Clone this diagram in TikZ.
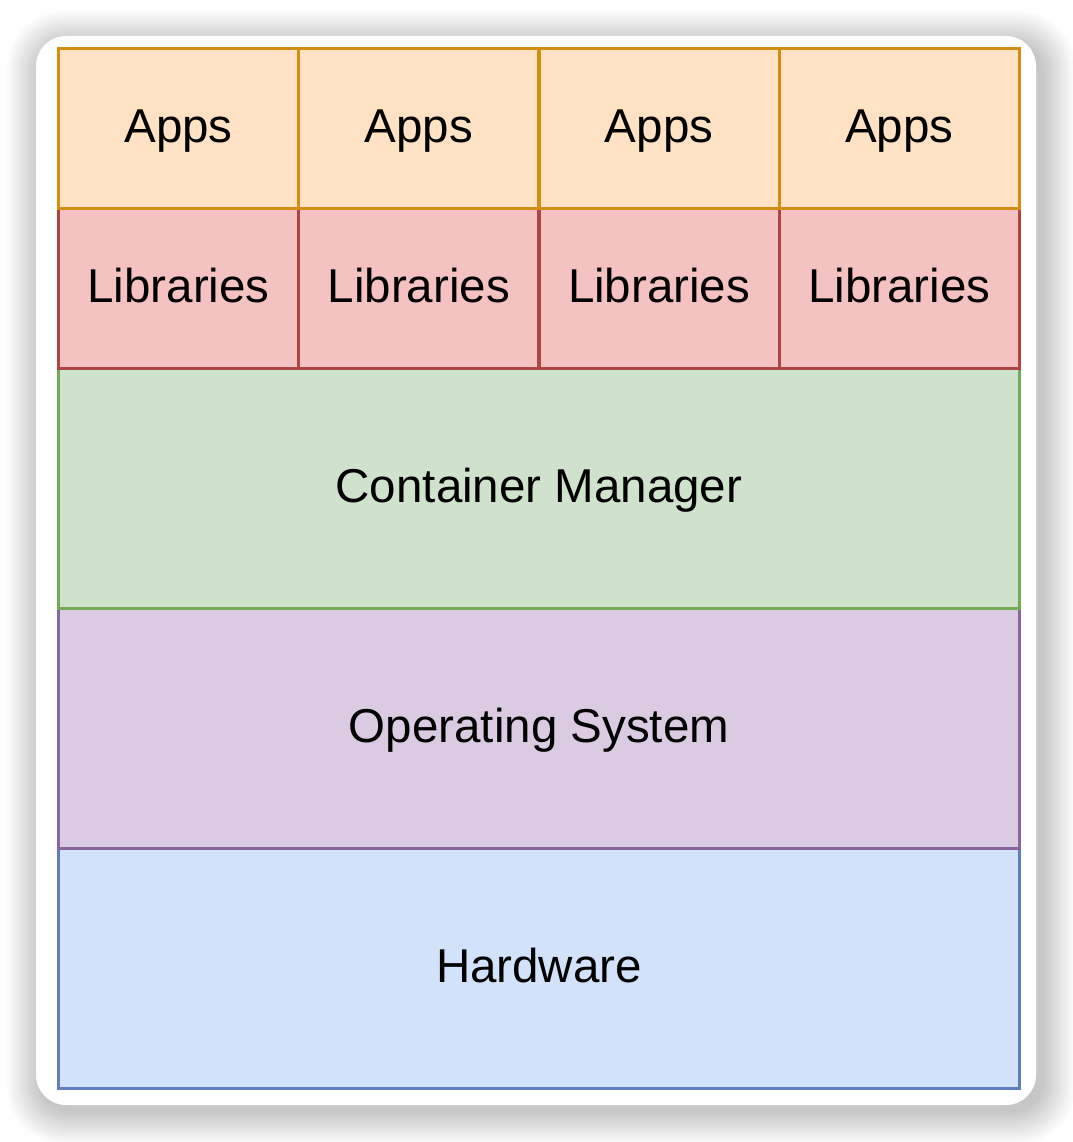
\documentclass[tikz,border=0pt]{standalone}
\usepackage{fontspec}
\setmainfont{Liberation Sans}
\definecolor{appF}{HTML}{FFE1C3}\definecolor{appD}{HTML}{D18E12}
\definecolor{libF}{HTML}{F5C2C2}\definecolor{libD}{HTML}{AE4444}
\definecolor{conF}{HTML}{CFE3CC}\definecolor{conD}{HTML}{72AA55}
\definecolor{osF}{HTML}{DACBE2}\definecolor{osD}{HTML}{8A66A0}
\definecolor{hwF}{HTML}{D1E2FA}\definecolor{hwD}{HTML}{5F7FBC}
\tikzset{
  cell/.style={draw, line width=3pt, minimum width=240pt, anchor=north west, inner sep=0pt,
    font=\fontsize{47.5}{50}\selectfont, text=black, text height=34pt, text depth=6pt},
  app/.style={cell, fill=appF, draw=appD, minimum height=160pt},
  lib/.style={cell, fill=libF, draw=libD, minimum height=160pt},
  wide/.style={cell, minimum width=961pt, minimum height=240pt},
}
\begin{document}
\begin{tikzpicture}[x=1pt,y=-1pt]
\useasboundingbox[fill=white] (0,0) rectangle (1072,1142);
% shadow
\foreach \i in {1,...,28}{
  \fill[black, opacity=0.0065, rounded corners={30pt+\i pt}]
    (40-\i*1.2,44-\i*1.2) rectangle (1042+\i*1.2,1111+\i*1.2);
}
\fill[white, rounded corners=30pt] (36,36) rectangle (1036,1105);
% layers
\node[wide, fill=hwF, draw=hwD] (hw) at (57,847) {Hardware};
\node[wide, fill=osF, draw=osD] (os) at (57,607) {Operating System};
\node[wide, fill=conF, draw=conD] (cm) at (57,367) {Container Manager};
\node[lib] (l1) at (57,207) {Libraries};
\node[lib] (l2) at (297.3,207) {Libraries};
\node[lib] (l3) at (537.6,207) {Libraries};
\node[lib] (l4) at (777.9,207) {Libraries};
\node[app] (a1) at (57,47) {Apps};
\node[app] (a2) at (297.3,47) {Apps};
\node[app] (a3) at (537.6,47) {Apps};
\node[app] (a4) at (777.9,47) {Apps};
\end{tikzpicture}
\end{document}
